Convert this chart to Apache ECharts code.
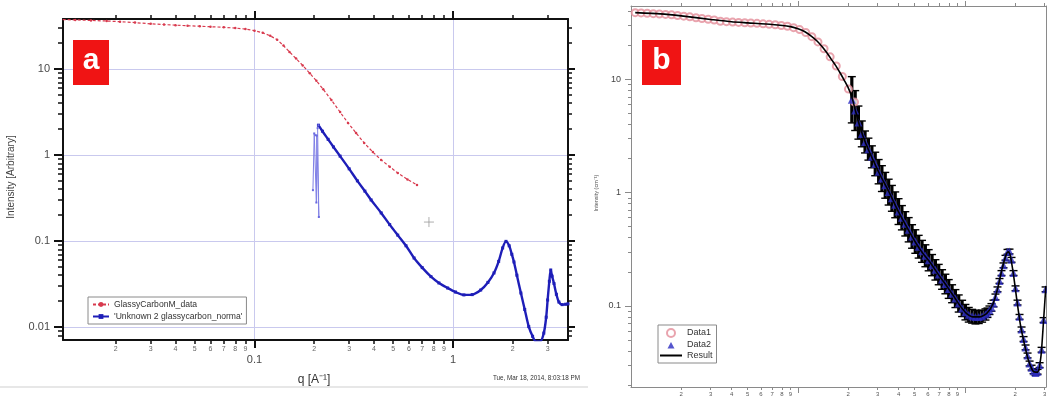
<!DOCTYPE html>
<html><head><meta charset="utf-8">
<script src="https://cdn.jsdelivr.net/npm/echarts@6/dist/echarts.min.js"></script>
<style>html,body{margin:0;padding:0;background:#fff}#c{width:1047px;height:396px}</style>
</head><body><div id="c"></div>
<script>
// ---------------- Panel a data ----------------
const glassyQ = [0.0108,0.0125,0.015,0.018,0.021,0.025,0.03,0.035,0.04,0.046,0.053,0.06,0.07,0.08,0.09,0.1,0.11,0.12,0.13,0.14,0.15,0.162,0.175,0.19,0.205,0.222,0.244,0.27,0.296,0.325,0.357,0.395,0.435,0.48,0.527,0.59,0.659];
const glassyI = [37.5,37.2,36.7,36.1,35.5,34.6,33.5,32.8,32.3,31.8,31.4,31.0,30.5,29.9,29.1,27.9,26.3,24.3,21.9,18.7,15.8,13.2,11.0,8.9,7.3,5.8,4.36,3.15,2.36,1.8,1.38,1.08,0.875,0.73,0.618,0.52,0.448];
const unkSpikeQ = [0.197,0.200,0.203,0.205,0.206,0.211,0.208,0.210];
const unkSpikeI = [0.39,1.78,1.70,0.28,1.68,0.19,2.05,2.22];
const unkQ = [0.210,0.22,0.235,0.25,0.27,0.3,0.33,0.36,0.387,0.435,0.48,0.527,0.58,0.637,0.7,0.775,0.85,0.94,1.03,1.136,1.25,1.38,1.5,1.61,1.7,1.78,1.85,1.92,1.98,2.03,2.1,2.2,2.3,2.41,2.52,2.62,2.75,2.87,2.95,3.0,3.06,3.11,3.16,3.23,3.32,3.42,3.55,3.7,3.8];
const unkI = [2.22,1.89,1.52,1.24,0.97,0.69,0.50,0.38,0.30,0.212,0.155,0.117,0.088,0.0634,0.049,0.0385,0.0325,0.0284,0.0255,0.0236,0.0238,0.0269,0.033,0.0425,0.058,0.083,0.099,0.088,0.07,0.057,0.04,0.0248,0.016,0.0101,0.0078,0.0068,0.0068,0.0085,0.013,0.0206,0.034,0.046,0.039,0.032,0.024,0.0195,0.0182,0.0184,0.0186];
const cursorQ = [0.757];
const cursorI = [0.166];

// ---------------- Panel b data ----------------
const data1Q = [0.0106,0.0115,0.0125,0.0136,0.0148,0.0161,0.0175,0.0190,0.0207,0.0225,0.0245,0.0266,0.0290,0.0315,0.0343,0.0373,0.0406,0.0441,0.0480,0.0522,0.0568,0.0618,0.0672,0.0731,0.0795,0.0865,0.0941,0.1023,0.1113,0.1211,0.1317,0.1432,0.1558,0.1695,0.1843,0.2005,0.2181];
const data1I = [38.8,38.6,38.3,38.0,37.7,37.4,37.1,36.6,36.1,35.6,35.0,34.4,33.9,33.4,32.6,32.3,32.0,31.8,31.6,31.4,31.2,30.9,30.6,30.3,29.9,29.4,28.6,27.5,25.9,23.8,21.4,18.6,15.8,13.1,10.6,8.2,6.3];
const data2Q = [0.210,0.220,0.230,0.241,0.252,0.264,0.277,0.290,0.304,0.318,0.333,0.349,0.365,0.382,0.400,0.419,0.439,0.460,0.482,0.504,0.528,0.553,0.579,0.606,0.635,0.665,0.696,0.729,0.763,0.799,0.837,0.876,0.917,0.961,1.006,1.053,1.103,1.155,1.209,1.266,1.326,1.363,1.401,1.440,1.481,1.522,1.565,1.609,1.654,1.700,1.748,1.797,1.847,1.899,1.952,2.007,2.063,2.121,2.181,2.242,2.305,2.369,2.436,2.504,2.574,2.646,2.720,2.797,2.875,2.955,3.038];
const data2I = [6.6,5.3,4.15,3.3,2.8,2.42,2.07,1.79,1.53,1.33,1.16,1.01,0.89,0.78,0.68,0.60,0.53,0.47,0.41,0.37,0.333,0.303,0.277,0.253,0.229,0.208,0.189,0.171,0.156,0.141,0.128,0.116,0.105,0.095,0.088,0.0835,0.081,0.0797,0.0797,0.0812,0.084,0.087,0.0915,0.097,0.105,0.120,0.140,0.166,0.195,0.228,0.266,0.300,0.302,0.255,0.195,0.143,0.107,0.080,0.062,0.051,0.043,0.0365,0.031,0.0285,0.0265,0.0256,0.0262,0.030,0.041,0.075,0.14];
const data2Err = [1.6,1.5,1.4,1.3,1.25,1.25,1.25,1.27,1.28,1.3,1.3,1.3,1.3,1.3,1.3,1.28,1.28,1.28,1.27,1.27,1.26,1.25,1.25,1.24,1.24,1.23,1.23,1.22,1.22,1.21,1.2,1.2,1.19,1.18,1.17,1.16,1.15,1.15,1.14,1.13,1.12,1.1,1.09,1.08,1.07,1.06,1.05,1.05,1.05,1.05,1.05,1.05,1.05,1.05,1.05,1.05,1.05,1.05,1.05,1.05,1.05,1.05,1.05,1.05,1.05,1.05,1.05,1.05,1.05,1.05,1.05];
const resultQ = [0.0106,0.015,0.02,0.03,0.04,0.05,0.07,0.09,0.1,0.11,0.12,0.13,0.14,0.15,0.16,0.17,0.18,0.19,0.2,0.21,0.22,0.235,0.254,0.28,0.314,0.35,0.395,0.45,0.509,0.56,0.617,0.7,0.777,0.855,0.935,1.02,1.12,1.23,1.35,1.47,1.57,1.67,1.77,1.816,1.86,1.95,2.04,2.14,2.24,2.39,2.56,2.72,2.85,2.95,3.05];
const resultI = [38.8,37.8,36.3,33.8,32.2,31.5,30.5,29.2,27.9,26.3,24.1,21.8,19.3,16.9,14.7,12.9,11.2,9.7,8.4,7.0,5.4,3.8,2.74,1.97,1.38,1.02,0.70,0.49,0.357,0.29,0.243,0.185,0.15,0.122,0.10,0.086,0.080,0.080,0.086,0.104,0.143,0.215,0.288,0.30,0.285,0.19,0.115,0.07,0.05,0.0336,0.0265,0.026,0.036,0.072,0.15];

// ---------------- Axis ranges & tick labels ----------------
const aXRange = [0.01084, 3.80];
const aYRange = [0.00706, 38.1];
const bXRange = [0.01, 3.055];
const bYRange = [0.01923, 44.4];
const aXMajor = [0.1, 1];
const aXMinor = [0.02,0.03,0.04,0.05,0.06,0.07,0.08,0.09,0.2,0.3,0.4,0.5,0.6,0.7,0.8,0.9,2,3];
const aYMajor = [0.01, 0.1, 1, 10];
const aYMinor = [0.008,0.009,0.02,0.03,0.04,0.05,0.06,0.07,0.08,0.09,0.2,0.3,0.4,0.5,0.6,0.7,0.8,0.9,2,3,4,5,6,7,8,9,20,30];
const bXMajor = [0.1, 1];
const bXMinor = [0.02,0.03,0.04,0.05,0.06,0.07,0.08,0.09,0.2,0.3,0.4,0.5,0.6,0.7,0.8,0.9,2,3];
const bYMajor = [0.1, 1, 10];
const bYMinor = [0.02,0.03,0.04,0.05,0.06,0.07,0.08,0.09,0.2,0.3,0.4,0.5,0.6,0.7,0.8,0.9,2,3,4,5,6,7,8,9,20,30,40];

const FONT = '"Liberation Sans", Arial, sans-serif';
const zip = (a, b) => a.map((v, i) => [v, b[i]]);
const fmtMajor = v => String(parseFloat(Math.pow(10, v).toPrecision(3)));
const fmtDigit = v => { const e = Math.floor(v + 1e-9); return String(Math.round(Math.pow(10, v - e))); };

function tickAxis(gridIndex, position, range, vals, c) {
  const lv = vals.map(Math.log10);
  return {
    type: 'value', gridIndex, position, offset: 0,
    min: Math.log10(range[0]), max: Math.log10(range[1]), silent: true,
    axisLine: { show: !!c.line, onZero: false, lineStyle: { color: c.color, width: c.lineWidth || 1 } },
    splitLine: { show: false },
    axisTick: { show: true, customValues: lv, length: c.len, inside: false, lineStyle: { color: c.color, width: c.width } },
    axisLabel: c.label ? { show: true, customValues: lv, formatter: c.fmt, margin: c.margin,
      fontSize: c.fontSize, color: c.labelColor, fontFamily: FONT } : { show: false }
  };
}
function logAxis(gridIndex, position, range, c) {
  return {
    type: 'log', logBase: 10, gridIndex, position, min: range[0], max: range[1], silent: true,
    axisLine: { show: true, onZero: false, lineStyle: { color: c.color, width: c.lineWidth } },
    axisTick: { show: false }, axisLabel: { show: false }, minorTick: { show: false },
    splitLine: { show: !!c.split, lineStyle: { color: '#c9c9ee', width: 1 } }
  };
}
const A = '#111', B = '#8a8a8a';
const xAxis = [
  logAxis(0, 'bottom', aXRange, { color: A, lineWidth: 2, split: true }),
  tickAxis(0, 'bottom', aXRange, aXMajor, { color: A, len: 8, width: 2, label: true, fmt: fmtMajor, margin: 14, fontSize: 11, labelColor: '#4a4a4a' }),
  tickAxis(0, 'bottom', aXRange, aXMinor, { color: A, len: 4, width: 1.5, label: true, fmt: fmtDigit, margin: 6, fontSize: 7, labelColor: '#666' }),
  tickAxis(0, 'top', aXRange, aXMajor, { color: A, len: 8, width: 2, line: true, lineWidth: 2 }),
  tickAxis(0, 'top', aXRange, aXMinor, { color: A, len: 4, width: 1.5 }),
  logAxis(1, 'bottom', bXRange, { color: B, lineWidth: 1 }),
  tickAxis(1, 'bottom', bXRange, bXMajor, { color: B, len: 6, width: 1, label: true, fmt: fmtMajor, margin: 12, fontSize: 8, labelColor: '#444' }),
  tickAxis(1, 'bottom', bXRange, bXMinor, { color: B, len: 3, width: 1, label: true, fmt: fmtDigit, margin: 4, fontSize: 6, labelColor: '#555' }),
  tickAxis(1, 'top', bXRange, bXMajor, { color: B, len: 5, width: 1, line: true, lineWidth: 1 }),
  tickAxis(1, 'top', bXRange, bXMinor, { color: B, len: 3, width: 1 })
];
const yAxis = [
  logAxis(0, 'left', aYRange, { color: A, lineWidth: 2, split: true }),
  tickAxis(0, 'left', aYRange, aYMajor, { color: A, len: 9, width: 2, label: true, fmt: fmtMajor, margin: 13, fontSize: 11, labelColor: '#4a4a4a' }),
  tickAxis(0, 'left', aYRange, aYMinor, { color: A, len: 5, width: 1.5 }),
  tickAxis(0, 'right', aYRange, aYMajor, { color: A, len: 7, width: 2, line: true, lineWidth: 2 }),
  tickAxis(0, 'right', aYRange, aYMinor, { color: A, len: 4, width: 1.5 }),
  logAxis(1, 'left', bYRange, { color: B, lineWidth: 1 }),
  tickAxis(1, 'left', bYRange, bYMajor, { color: B, len: 6, width: 1, label: true, fmt: fmtMajor, margin: 10, fontSize: 9, labelColor: '#444' }),
  tickAxis(1, 'left', bYRange, bYMinor, { color: B, len: 3, width: 1 }),
  tickAxis(1, 'right', bYRange, bYMajor, { color: B, len: 5, width: 1, line: true, lineWidth: 1 }),
  tickAxis(1, 'right', bYRange, bYMinor, { color: B, len: 3, width: 1 })
];

const errData = data2Q.map((q, i) => [q, data2I[i] / data2Err[i], data2I[i] * data2Err[i]]);

const option = {
  animation: false,
  backgroundColor: '#fff',
  textStyle: { fontFamily: FONT },
  grid: [
    { left: 63, top: 19, width: 505, height: 321, containLabel: false, outerBoundsMode: 'none' },
    { left: 631, top: 6, width: 415, height: 381, containLabel: false, outerBoundsMode: 'none' }
  ],
  xAxis, yAxis,
  legend: [
    { data: ['GlassyCarbonM_data', "'Unknown 2 glassycarbon_norma'"], orient: 'vertical', left: 88, top: 297,
      itemWidth: 16, itemHeight: 6, itemGap: 3, padding: [3, 4, 3, 4], borderColor: '#8a8a8a', borderWidth: 1,
      backgroundColor: '#fff', selectedMode: false, textStyle: { fontSize: 8.6, color: '#333', fontFamily: FONT } },
    { data: [
        { name: 'Data1', icon: 'emptyCircle' },
        { name: 'Data2', icon: 'path://M0,0M22,8M7.5,8L11,1.5L14.5,8Z' },
        { name: 'Result', icon: 'path://M0,0L22,0L22,2L0,2Z' }
      ], orient: 'vertical', left: 658, top: 325, symbolKeepAspect: true,
      itemWidth: 22, itemHeight: 8, itemGap: 2, padding: [3, 4, 3, 2], borderColor: '#8a8a8a', borderWidth: 1,
      backgroundColor: '#fff', selectedMode: false, textStyle: { fontSize: 9, color: '#333', fontFamily: FONT } }
  ],
  series: [
    { name: 'GlassyCarbonM_data', type: 'line', xAxisIndex: 0, yAxisIndex: 0, data: zip(glassyQ, glassyI),
      symbol: 'circle', symbolSize: 2.5, showSymbol: true, color: '#d83a4e',
      lineStyle: { color: '#d83a4e', width: 1.2, type: [3, 2] }, itemStyle: { color: '#d83a4e' } },
    { name: "'Unknown 2 glassycarbon_norma'", type: 'line', xAxisIndex: 0, yAxisIndex: 0, data: zip(unkQ, unkI),
      symbol: 'rect', symbolSize: 3, showSymbol: true, smooth: 0.3, color: '#1e1eb8',
      lineStyle: { color: '#1e1eb8', width: 2.4 }, itemStyle: { color: '#1e1eb8' } },
    { name: "'Unknown 2 glassycarbon_norma'", type: 'line', xAxisIndex: 0, yAxisIndex: 0, data: zip(unkSpikeQ, unkSpikeI),
      symbol: 'rect', symbolSize: 2, showSymbol: true, color: '#6a6ae0',
      lineStyle: { color: '#8080e6', width: 1 }, itemStyle: { color: '#6a6ae0' } },
    { name: 'cursor', type: 'scatter', xAxisIndex: 0, yAxisIndex: 0, data: zip(cursorQ, cursorI),
      symbol: 'path://M5,0L5,10M0,5L10,5', symbolSize: 10,
      itemStyle: { color: 'rgba(0,0,0,0)', borderColor: '#9a9a9a', borderWidth: 1 } },

    { name: 'Data1', type: 'scatter', xAxisIndex: 5, yAxisIndex: 5, data: zip(data1Q, data1I),
      symbol: 'emptyCircle', symbolSize: 7, color: '#e48d9a',
      itemStyle: { color: '#e48d9a', borderWidth: 1 } },
    { name: 'Data2', type: 'scatter', xAxisIndex: 5, yAxisIndex: 5, data: zip(data2Q, data2I),
      symbol: 'triangle', symbolSize: 8, color: '#2c2cc0', itemStyle: { color: '#2c2cc0' } },
    { name: 'Data2 error', type: 'custom', xAxisIndex: 5, yAxisIndex: 5, data: errData, clip: true, silent: true,
      encode: { x: 0, y: [1, 2] },
      renderItem: function (params, api) {
        const lo = api.coord([api.value(0), api.value(1)]);
        const hi = api.coord([api.value(0), api.value(2)]);
        const big = api.value(2) / api.value(1) > 1.2;
        const w = 4;
        return { type: 'group', children: [
          { type: 'line', shape: { x1: lo[0], y1: lo[1], x2: hi[0], y2: hi[1] }, style: { stroke: '#000', lineWidth: big ? 3.2 : 1.1 } },
          { type: 'line', shape: { x1: lo[0] - w, y1: lo[1], x2: lo[0] + w, y2: lo[1] }, style: { stroke: '#000', lineWidth: 1.4 } },
          { type: 'line', shape: { x1: hi[0] - w, y1: hi[1], x2: hi[0] + w, y2: hi[1] }, style: { stroke: '#000', lineWidth: 1.4 } }
        ] };
      } },
    { name: 'Result', type: 'line', xAxisIndex: 5, yAxisIndex: 5, data: zip(resultQ, resultI),
      symbol: 'none', smooth: 0.2, color: '#000', lineStyle: { color: '#000', width: 1.6 } }
  ],
  graphic: { elements: [
    { type: 'rect', shape: { x: 73, y: 40, width: 36, height: 45 }, style: { fill: '#f01414' }, z: 100 },
    { type: 'text', x: 91, y: 61, z: 101, style: { text: 'a', fill: '#fff', fontSize: 30, fontWeight: 'bold', fontFamily: FONT, align: 'center', verticalAlign: 'middle' } },
    { type: 'rect', shape: { x: 642, y: 40, width: 39, height: 45 }, style: { fill: '#f01414' }, z: 100 },
    { type: 'text', x: 661.5, y: 61, z: 101, style: { text: 'b', fill: '#fff', fontSize: 30, fontWeight: 'bold', fontFamily: FONT, align: 'center', verticalAlign: 'middle' } },
    { type: 'text', x: 11, y: 177, rotation: Math.PI / 2, style: { text: 'Intensity [Arbitrary]', fill: '#444', fontSize: 10, fontFamily: FONT, align: 'center', verticalAlign: 'middle' } },
    { type: 'text', x: 314, y: 380, style: { text: 'q [A\u207B\u00B9]', fill: '#333', fontSize: 12, fontFamily: FONT, align: 'center', verticalAlign: 'middle' } },
    { type: 'text', x: 493, y: 378, style: { text: 'Tue, Mar 18, 2014, 8:03:18 PM', fill: '#333', fontSize: 6.3, fontFamily: FONT, align: 'left', verticalAlign: 'middle' } },
    { type: 'text', x: 596, y: 193, rotation: Math.PI / 2, style: { text: 'Intensity (cm\u207B\u00B9)', fill: '#555', fontSize: 5.5, fontFamily: FONT, align: 'center', verticalAlign: 'middle' } },
    { type: 'line', shape: { x1: 0, y1: 387, x2: 588, y2: 387 }, style: { stroke: '#cfcfcf', lineWidth: 1 } }
  ] }
};
const chart = echarts.init(document.getElementById('c'), null, { renderer: 'canvas' });
chart.setOption(option);
</script>
</body></html>
